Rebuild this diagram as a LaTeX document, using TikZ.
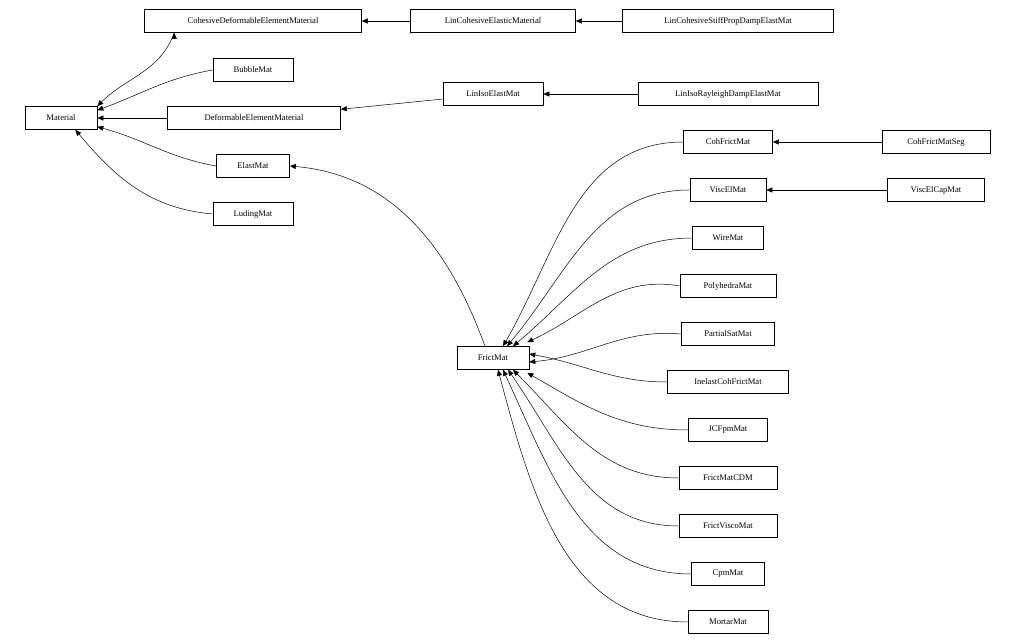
\documentclass[tikz,border=0pt]{standalone}
\usepackage{fontspec}
\setmainfont{Liberation Serif}
\usetikzlibrary{arrows.meta}
\begin{document}
\begin{tikzpicture}[x=1pt,y=-1pt,
  box/.style={draw,line width=0.6pt,font=\fontsize{8.6}{10}\selectfont,minimum height=23pt,inner xsep=6pt,anchor=center},
  e/.style={-{Triangle[length=6pt,width=5pt]},line width=0.5pt}]
\useasboundingbox (0,0) rectangle (1015,644);
\node[box,minimum width=72pt] (mat) at (61,118) {Material};
\node[box,minimum width=217pt] (cdem) at (253,21) {CohesiveDeformableElementMaterial};
\node[box,minimum width=165pt] (lcem) at (493,21) {LinCohesiveElasticMaterial};
\node[box,minimum width=211pt] (lcsp) at (728,21) {LinCohesiveStiffPropDampElastMat};
\node[box,minimum width=80pt] (bub) at (253,70) {BubbleMat};
\node[box,minimum width=173pt] (dem) at (254,118) {DeformableElementMaterial};
\node[box,minimum width=100pt] (lie) at (493,94) {LinIsoElastMat};
\node[box,minimum width=180pt] (lir) at (728,94) {LinIsoRayleighDampElastMat};
\node[box,minimum width=73pt] (ela) at (253,166) {ElastMat};
\node[box,minimum width=80pt] (lud) at (253,214) {LudingMat};
\node[box,minimum width=72pt] (fri) at (493,358) {FrictMat};
\node[box,minimum width=89pt] (coh) at (728,142) {CohFrictMat};
\node[box,minimum width=108pt] (cohs) at (936,142) {CohFrictMatSeg};
\node[box,minimum width=76pt] (vis) at (728,190) {ViscElMat};
\node[box,minimum width=97pt] (visc) at (936,190) {ViscElCapMat};
\node[box,minimum width=71pt] (wir) at (728,238) {WireMat};
\node[box,minimum width=96pt] (pol) at (728,286) {PolyhedraMat};
\node[box,minimum width=93pt] (par) at (728,334) {PartialSatMat};
\node[box,minimum width=121pt] (ine) at (728,382) {InelastCohFrictMat};
\node[box,minimum width=79pt] (jcf) at (728,430) {JCFpmMat};
\node[box,minimum width=98pt] (cdm) at (728,478) {FrictMatCDM};
\node[box,minimum width=98pt] (fvm) at (728,526) {FrictViscoMat};
\node[box,minimum width=73pt] (cpm) at (728,574) {CpmMat};
\node[box,minimum width=80pt] (mor) at (728,622) {MortarMat};

\draw[e] (lcsp) -- (lcem);
\draw[e] (lcem) -- (cdem);
\draw[e] (lir) -- (lie);
\draw[e] (lie) -- (dem);
\draw[e] (cohs) -- (coh);
\draw[e] (visc) -- (vis);
\draw[e] (dem) -- (mat);
\draw[e] (cdem.south west)++(30,0) coordinate (c1);
\draw[e] (c1) to[out=250,in=45] (mat.north east);
\draw[e] (bub.west) to[out=190,in=20] ([yshift=-4pt]mat.north east);
\draw[e] (ela.west) to[out=170,in=-15] ([yshift=3pt]mat.south east);
\draw[e] (lud.west) to[out=175,in=-50] ([xshift=-22pt]mat.south east);
\draw[e] ([xshift=-8pt]fri.north) to[out=110,in=-5] (ela.east);
\draw[e] (coh.west) to[out=180,in=60] ([xshift=10pt]fri.north);
\draw[e] (vis.west) to[out=180,in=50] ([xshift=14pt]fri.north);
\draw[e] (wir.west) to[out=180,in=40] ([xshift=20pt]fri.north);
\draw[e] (pol.west) to[out=170,in=25] ([xshift=-2pt,yshift=4pt]fri.north east);
\draw[e] (par.west) to[out=175,in=5] ([yshift=-4pt]fri.east);
\draw[e] (ine.west) to[out=180,in=-10] ([yshift=4pt]fri.east);
\draw[e] (jcf.west) to[out=180,in=-30] ([xshift=-2pt,yshift=-3pt]fri.south east);
\draw[e] (cdm.west) to[out=180,in=-45] ([xshift=20pt]fri.south);
\draw[e] (fvm.west) to[out=180,in=-55] ([xshift=15pt]fri.south);
\draw[e] (cpm.west) to[out=180,in=-65] ([xshift=10pt]fri.south);
\draw[e] (mor.west) to[out=180,in=-75] ([xshift=5pt]fri.south);
\end{tikzpicture}
\end{document}
